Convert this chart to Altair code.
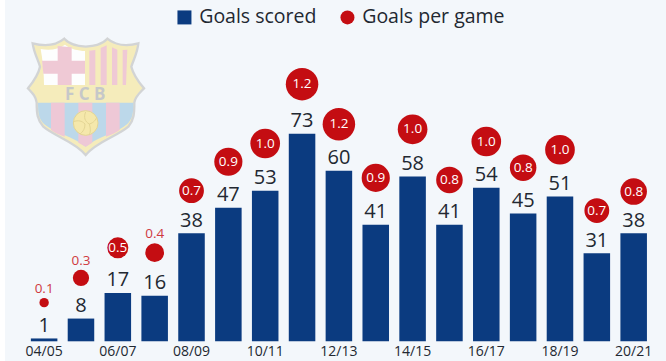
import base64
import math

import altair as alt
import pandas as pd

seasons = ["04/05", "05/06", "06/07", "07/08", "08/09", "09/10", "10/11", "11/12", "12/13",
           "13/14", "14/15", "15/16", "16/17", "17/18", "18/19", "19/20", "20/21"]
goals = [1, 8, 17, 16, 38, 47, 53, 73, 60, 41, 58, 41, 54, 45, 51, 31, 38]
per_game = [0.1, 0.3, 0.5, 0.4, 0.7, 0.9, 1.0, 1.2, 1.2, 0.9, 1.0, 0.8, 1.0, 0.8, 1.0, 0.7, 0.8]
bubble_level = [13.6, 22.3, 32.9, 31.2, 53.0, 63.2, 69.6, 90.5, 76.4,
                57.5, 74.6, 56.8, 70.3, 61.1, 67.4, 46.0, 52.7]
axis_labels = seasons[::2]
legend_names = ["Goals scored", "Goals per game"]

FONT = "Open Sans"
NAVY = "#0b3b80"
RED = "#c40d12"
PANEL = "#f3f7fb"
INK = "#222831"

PX_PER_GOAL = 341 / 120
BUBBLE_AREA = 880  # squared diameter of a 1.0 goals-per-game bubble


def radius(value):
    return math.sqrt(BUBBLE_AREA * value) / 2


df = pd.DataFrame({"season": seasons, "goals": goals, "per_game": per_game, "level": bubble_level})
df["tag"] = df["per_game"].map("{:.1f}".format)
df["tag_level"] = df["level"] + (df["per_game"].map(radius) + 5) / PX_PER_GOAL

# Watermark crest, drawn in its own 390-unit box
crest = """<svg xmlns="http://www.w3.org/2000/svg" viewBox="0 0 390 390" width="390" height="390">
<path d="M38 40 C75 50 110 45 133 26 C150 45 175 48 197 50 C220 48 245 45 262 26 C285 45 320 50 355 40
C352 70 340 90 334 110 C340 135 355 155 372 175 C358 190 345 200 343 218 C343 250 342 270 325 290
C290 320 230 335 197 375 C165 335 105 320 70 290 C52 270 50 250 50 218 C48 200 38 190 24 175
C40 155 55 135 60 110 C55 90 42 70 38 40 Z" fill="#f6ebb5" stroke="#cfd1d1" stroke-width="7"/>
<path d="M62 57 C90 62 115 58 135 44 C150 57 175 62 195 63 L195 165 L72 165 C72 130 68 90 62 57 Z" fill="#ffffff"/>
<path d="M113 48 L155 52 L155 92 L195 92 L195 131 L155 131 L155 165 L113 165 L113 131 L70 131 L66 92 L113 92 Z" fill="#efc5d1"/>
<path d="M198 63 C220 62 245 57 262 44 C280 58 305 62 332 57 C328 90 322 130 322 165 L198 165 Z" fill="#f6ebb5"/>
<path d="M208 62 L226 60 L226 165 L208 165 Z M242 54 L260 46 L260 165 L242 165 Z M276 52 L292 59 L292 165 L276 165 Z M308 60 L322 59 L318 165 L308 165 Z" fill="#efc5d1"/>
<path d="M54 218 L340 218 C340 250 338 265 322 282 C290 310 228 322 197 350 C165 322 105 310 72 282 C56 265 54 250 54 218 Z" fill="#b7d5e9"/>
<path d="M93 218 L134 218 L134 320 C118 315 105 308 93 300 Z M175 218 L217 218 L217 338 L197 350 L175 338 Z M258 218 L299 218 L299 300 C287 308 274 315 258 320 Z" fill="#eec3d2"/>
<circle cx="197" cy="279" r="37" fill="#f6e7a3" stroke="#e2d28a" stroke-width="3"/>
<path d="M197 246 C190 262 195 275 208 282 M160 275 C175 270 185 272 195 282 C195 295 190 305 180 312 M208 282 C222 278 228 268 230 262 M208 282 C212 295 212 305 208 315" fill="none" stroke="#e2d28a" stroke-width="3"/>
</svg>"""
crest_url = "data:image/svg+xml;base64," + base64.b64encode(crest.encode()).decode()

x = alt.X(
    "season:N",
    sort=seasons,
    title=None,
    scale=alt.Scale(paddingInner=0.28, paddingOuter=0.14),
    axis=alt.Axis(values=axis_labels, labelAngle=0, ticks=False, domain=False, grid=False,
                  labelFontSize=14, labelFont=FONT, labelColor=INK, labelPadding=3),
)
y_scale = alt.Scale(domain=[0, 120], nice=False)
y_axis = alt.Axis(labels=False, ticks=False, domain=False, grid=False, title=None)

# White strip down the left edge of the page
edge = alt.Chart(pd.DataFrame({"a": [0]})).mark_rect(color="#ffffff").encode(
    x=alt.value(-26), x2=alt.value(-20.7), y=alt.value(-2), y2=alt.value(365)
)

emblem = alt.Chart(pd.DataFrame({"a": [0]})).mark_image(
    url=crest_url, width=130, height=130, align="left", baseline="top", opacity=0.9
).encode(x=alt.value(-5.7), y=alt.value(29.7))

emblem_text = alt.Chart(pd.DataFrame({"t": ["F C B"]})).mark_text(
    font=FONT, fontSize=17, fontWeight="bold", color="#c6c8c9"
).encode(x=alt.value(59.5), y=alt.value(94.5), text="t:N")

bars = alt.Chart(df).mark_bar(color=NAVY).encode(
    x=x,
    y=alt.Y("goals:Q", scale=y_scale, axis=y_axis),
)

goal_labels = alt.Chart(df).mark_text(
    font=FONT, fontSize=20, color=INK, baseline="alphabetic", dy=-6.5
).encode(x=x, y=alt.Y("goals:Q", scale=y_scale, axis=None), text="goals:Q")

bubbles = alt.Chart(df).mark_point(filled=True, opacity=1, color=RED, shape="circle").encode(
    x=x,
    y=alt.Y("level:Q", scale=y_scale, axis=None),
    size=alt.Size("per_game:Q", legend=None,
                  scale=alt.Scale(domain=[0, 1.2], range=[0, BUBBLE_AREA * 1.2])),
)

inner_tags = alt.Chart(df).transform_filter("datum.per_game >= 0.5").mark_text(
    font=FONT, fontSize=13.5, color="#ffffff"
).encode(x=x, y=alt.Y("level:Q", scale=y_scale, axis=None), text="tag:N")

outer_tags = alt.Chart(df).transform_filter("datum.per_game < 0.5").mark_text(
    font=FONT, fontSize=13.5, color="#cf3a40", baseline="alphabetic"
).encode(x=x, y=alt.Y("tag_level:Q", scale=y_scale, axis=None), text="tag:N")

key = alt.Chart(pd.DataFrame({"name": legend_names})).mark_point(filled=True, size=0, opacity=1).encode(
    color=alt.Color(
        "name:N",
        scale=alt.Scale(domain=legend_names, range=[NAVY, RED]),
        legend=alt.Legend(
            title=None, orient="none", direction="horizontal", legendX=149, legendY=7,
            symbolSize=196, symbolOpacity=1, symbolStrokeWidth=0, labelFont=FONT,
            labelFontSize=19.5, labelColor=INK, labelOffset=5, columnPadding=21,
            labelLimit=300,
        ),
    ),
    shape=alt.Shape(
        "name:N",
        scale=alt.Scale(domain=legend_names, range=["square", "circle"]),
    ),
)

chart = (
    alt.layer(edge, emblem, emblem_text, bars, goal_labels, bubbles, inner_tags, outer_tags, key)
    .resolve_scale(size="independent")
    .properties(
        width=626.4,
        height=341,
        background=PANEL,
        padding={"left": 25.7, "top": 0.3, "right": 13.9, "bottom": 19.7},
        autosize=alt.AutoSizeParams(type="none"),
    )
    .configure_view(stroke=None)
)

chart.save("out.html", embed_options={"renderer": "svg", "actions": False})
